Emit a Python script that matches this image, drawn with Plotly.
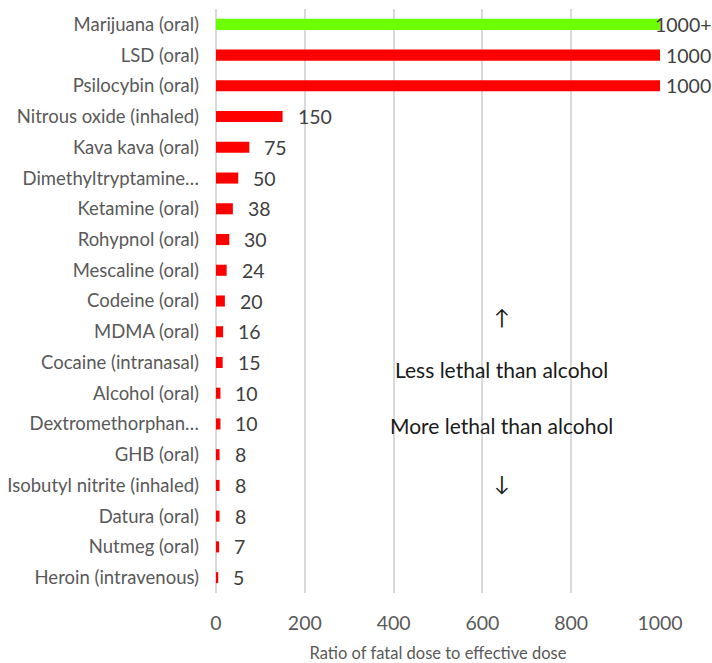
import plotly.graph_objects as go

categories = ["Marijuana (oral)", "LSD (oral)", "Psilocybin (oral)", "Nitrous oxide (inhaled)",
              "Kava kava (oral)", "Dimethyltryptamine…", "Ketamine (oral)", "Rohypnol (oral)",
              "Mescaline (oral)", "Codeine (oral)", "MDMA (oral)", "Cocaine (intranasal)",
              "Alcohol (oral)", "Dextromethorphan…", "GHB (oral)", "Isobutyl nitrite (inhaled)",
              "Datura (oral)", "Nutmeg (oral)", "Heroin (intravenous)"]
values = [1000, 1000, 1000, 150, 75, 50, 38, 30, 24, 20, 16, 15, 10, 10, 8, 8, 8, 7, 5]
value_labels = ["1000+", "1000", "1000", "150", "75", "50", "38", "30", "24", "20", "16", "15",
                "10", "10", "8", "8", "8", "7", "5"]
x_ticks = [0, 200, 400, 600, 800, 1000]

colors = ["#6CFF00"] + ["#FF0000"] * (len(categories) - 1)

FONT = "Lato, 'Noto Sans', sans-serif"

fig = go.Figure()
fig.add_trace(go.Bar(
    y=categories, x=values, orientation="h",
    marker=dict(color=colors, line=dict(width=0)),
    width=0.36, hoverinfo="x+y",
))

for cat, v, lab in zip(categories, values, value_labels):
    if v >= 1000:
        xs = -7 if lab.endswith("+") else 4
    else:
        xs = 13
    fig.add_annotation(x=v, y=cat, text=lab, xref="x", yref="y", showarrow=False,
                       xanchor="left", yanchor="middle", xshift=xs,
                       font=dict(family=FONT, size=19.5, color="#404040"))

notes = [("↑", 0.474), ("Less lethal than alcohol", 0.382),
         ("More lethal than alcohol", 0.286), ("↓", 0.190)]
for txt, yy in notes:
    fig.add_annotation(x=644, y=yy, xref="x", yref="paper", text=txt, showarrow=False,
                       xanchor="center", yanchor="middle",
                       font=dict(family=FONT, size=21, color="#1a1a1a"))

fig.update_layout(
    width=712, height=663,
    margin=dict(l=216, r=52, t=9, b=70),
    plot_bgcolor="white", paper_bgcolor="white",
    showlegend=False,
    font=dict(family=FONT, color="#595959"),
    xaxis=dict(range=[0, 1000], tickvals=x_ticks, showgrid=True, gridcolor="#D9D9D9",
               gridwidth=2, zeroline=True, zerolinecolor="#D9D9D9", zerolinewidth=2,
               showline=False, tickfont=dict(size=19.5, color="#595959"), ticks="",
               automargin=False, ticklabelstandoff=16,
               title=dict(text="Ratio of fatal dose to effective dose",
                          font=dict(size=16.5, color="#595959"), standoff=17),
               fixedrange=True),
    yaxis=dict(categoryorder="array", categoryarray=categories, autorange="reversed",
               tickfont=dict(size=18.5, color="#595959"), ticks="", showgrid=False,
               automargin=False, ticklabelstandoff=16, fixedrange=True),
)

fig.write_html("out.html", config={"displayModeBar": False},
               post_script="document.body.style.margin='0';")
